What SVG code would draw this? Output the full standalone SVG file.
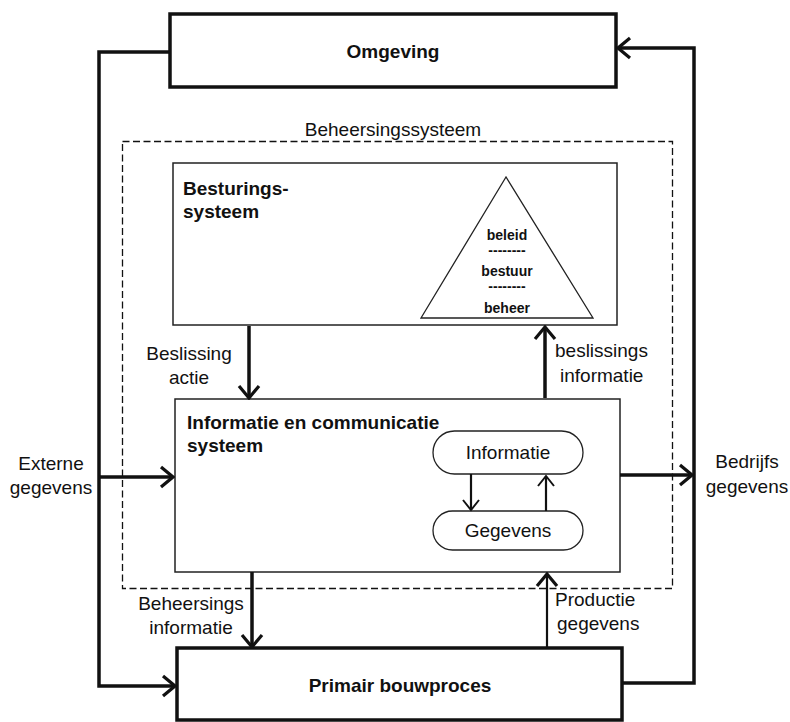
<svg xmlns="http://www.w3.org/2000/svg" width="790" height="722" viewBox="0 0 790 722">
  <style>
    text { font-family: "Liberation Sans", Arial, sans-serif; fill: #111; }
    .lbl { font-size: 19px; }
    .title { font-size: 19px; font-weight: bold; }
    .tri { font-size: 14px; font-weight: bold; text-anchor: middle; }
    .mid { text-anchor: middle; }
    .heavy { fill: #fff; stroke: #111; stroke-width: 3.5; }
    .thin { fill: none; stroke: #222; stroke-width: 1.5; }
    .dash { fill: none; stroke: #111; stroke-width: 1.3; stroke-dasharray: 7 3.5; }
    .wire { fill: none; stroke: #111; stroke-width: 3.5; stroke-linejoin: miter; }
    .wire-m { fill: none; stroke: #111; stroke-width: 2.2; }
    .pill { fill: #fff; stroke: #222; stroke-width: 1.3; }
  </style>
  <defs>
    <marker id="chev" viewBox="-14 -12 16 24" refX="0" refY="0" markerWidth="16" markerHeight="24" markerUnits="userSpaceOnUse" orient="auto">
      <path d="M-12,-10 L0,0 L-12,10" fill="none" stroke="#111" stroke-width="3.2" stroke-linejoin="miter"/>
    </marker>
    <marker id="chev-s" viewBox="-12 -10 14 20" refX="0" refY="0" markerWidth="14" markerHeight="20" markerUnits="userSpaceOnUse" orient="auto">
      <path d="M-10,-8 L0,0 L-10,8" fill="none" stroke="#111" stroke-width="2" stroke-linejoin="miter"/>
    </marker>
  </defs>

  <rect width="790" height="722" fill="#fff"/>

  <!-- control system frame (dashed) -->
  <g id="beheersingssysteem">
    <rect class="dash" x="122.5" y="141.5" width="550" height="447"/>
    <text class="lbl mid" x="393" y="136">Beheersingssysteem</text>
  </g>

  <g id="omgeving">
    <rect class="heavy" x="170" y="14" width="446" height="73"/>
    <text class="title mid" x="393" y="58">Omgeving</text>
  </g>

  <g id="besturingssysteem">
    <rect class="thin" x="173" y="163" width="444" height="162"/>
    <text class="title" x="183" y="195">Besturings-</text>
    <text class="title" x="183" y="218">systeem</text>
    <polygon points="506,177 421,318 593,318" fill="#fff" stroke="#222" stroke-width="1.3"/>
    <text class="tri" x="507" y="240">beleid</text>
    <text class="tri" x="507" y="255">--------</text>
    <text class="tri" x="507" y="276">bestuur</text>
    <text class="tri" x="507" y="291">--------</text>
    <text class="tri" x="507" y="313">beheer</text>
  </g>

  <g id="informatiesysteem">
    <rect class="thin" x="175" y="399" width="445" height="173"/>
    <text class="title" x="187" y="429">Informatie en communicatie</text>
    <text class="title" x="187" y="452">systeem</text>
  </g>

  <g id="informatie">
    <rect class="pill" x="433" y="431" width="150" height="43" rx="21.5"/>
    <text class="lbl mid" x="508" y="459">Informatie</text>
  </g>

  <g id="gegevens">
    <rect class="pill" x="433" y="511" width="150" height="39" rx="19.5"/>
    <text class="lbl mid" x="508" y="537">Gegevens</text>
  </g>

  <g id="primair-bouwproces">
    <rect class="heavy" x="177" y="648" width="445" height="72"/>
    <text class="title mid" x="400" y="692">Primair bouwproces</text>
  </g>

  <!-- connectors -->
  <g id="connectors">
    <!-- Omgeving -> Primair bouwproces (left loop) -->
    <polyline class="wire" points="170,52 99,52 99,686 175,686" marker-end="url(#chev)"/>
    <!-- Primair bouwproces -> Omgeving (right loop) -->
    <polyline class="wire" points="622,683 694,683 694,48 618,48" marker-end="url(#chev)"/>
    <!-- Beslissing actie -->
    <line class="wire" x1="249" y1="326" x2="249" y2="398" marker-end="url(#chev)"/>
    <!-- beslissings informatie -->
    <line class="wire" x1="545" y1="398" x2="545" y2="327" marker-end="url(#chev)"/>
    <!-- Externe gegevens -->
    <line class="wire" x1="99" y1="477" x2="173" y2="477" marker-end="url(#chev)"/>
    <!-- Bedrijfs gegevens -->
    <line class="wire" x1="620" y1="475" x2="692" y2="475" marker-end="url(#chev)"/>
    <!-- Beheersings informatie -->
    <line class="wire" x1="252" y1="572" x2="252" y2="647" marker-end="url(#chev)"/>
    <!-- Productie gegevens -->
    <line class="wire-m" x1="547" y1="647" x2="547" y2="574" marker-end="url(#chev)"/>
    <!-- Informatie <-> Gegevens -->
    <line class="wire-m" x1="471" y1="474" x2="471" y2="510" marker-end="url(#chev-s)"/>
    <line class="wire-m" x1="546" y1="511" x2="546" y2="476" marker-end="url(#chev-s)"/>
  </g>

  <!-- connector labels -->
  <g id="labels">
    <text class="lbl mid" x="189" y="360">Beslissing</text>
    <text class="lbl mid" x="189" y="384">actie</text>
    <text class="lbl" x="555" y="357">beslissings</text>
    <text class="lbl" x="560" y="382">informatie</text>
    <text class="lbl mid" x="51" y="470">Externe</text>
    <text class="lbl mid" x="51" y="494">gegevens</text>
    <text class="lbl mid" x="747" y="468">Bedrijfs</text>
    <text class="lbl mid" x="747" y="493">gegevens</text>
    <text class="lbl mid" x="191" y="610">Beheersings</text>
    <text class="lbl mid" x="191" y="634">informatie</text>
    <text class="lbl" x="555" y="606">Productie</text>
    <text class="lbl" x="557" y="630">gegevens</text>
  </g>
</svg>
